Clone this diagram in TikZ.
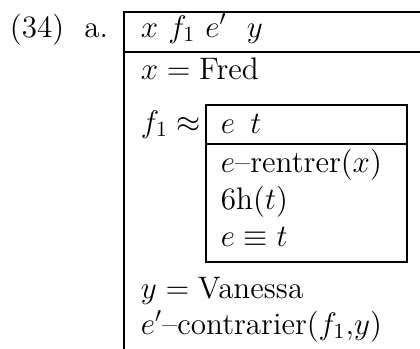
\documentclass[tikz,border=0pt]{standalone}
\begin{document}
\begin{tikzpicture}[x=0.5pt,y=-0.5pt,
  txt/.style={anchor=base west,inner sep=0pt,outer sep=0pt,scale=1.08,font=\fontsize{14.4}{18}\selectfont},
  rule/.style={line width=1pt}]
\useasboundingbox (0,0) rectangle (420,349);
% outer box
\coordinate (otl) at (124,12);
\coordinate (otr) at (421,12);
\coordinate (obl) at (124,350);
\coordinate (osl) at (124,52);
\coordinate (osr) at (421,52);
\draw[rule] (obl) -- (otl) -- (otr);
\draw[rule] (osl) -- (osr);
% inner box
\coordinate (itl) at (206,105);
\coordinate (ibr) at (407,262);
\coordinate (isl) at (206,144);
\coordinate (isr) at (407,144);
\draw[rule] (itl) rectangle (ibr);
\draw[rule] (isl) -- (isr);
% texts
\node[txt] (lab) at (10,37) {(34)\ \ a.};
\node[txt] (univ) at (141,37) {$x\ f_1\ e'\ \ y$};
\node[txt] (fred) at (141,79) {$x=\mathrm{Fred}$};
\node[txt] (f1) at (141,132) {$f_1\approx$};
\node[txt] (iuniv) at (221,133) {$e\ \,t$};
\node[txt] (c1) at (221,172) {$e$--rentrer($x$)};
\node[txt] (c2) at (221,209) {6h($t$)};
\node[txt] (c3) at (221,246) {$e\equiv t$};
\node[txt] (van) at (141,298) {$y=\mathrm{Vanessa}$};
\node[txt] (contr) at (141,334) {$e'$--contrarier($f_1$,$y$)};
\end{tikzpicture}
\end{document}
